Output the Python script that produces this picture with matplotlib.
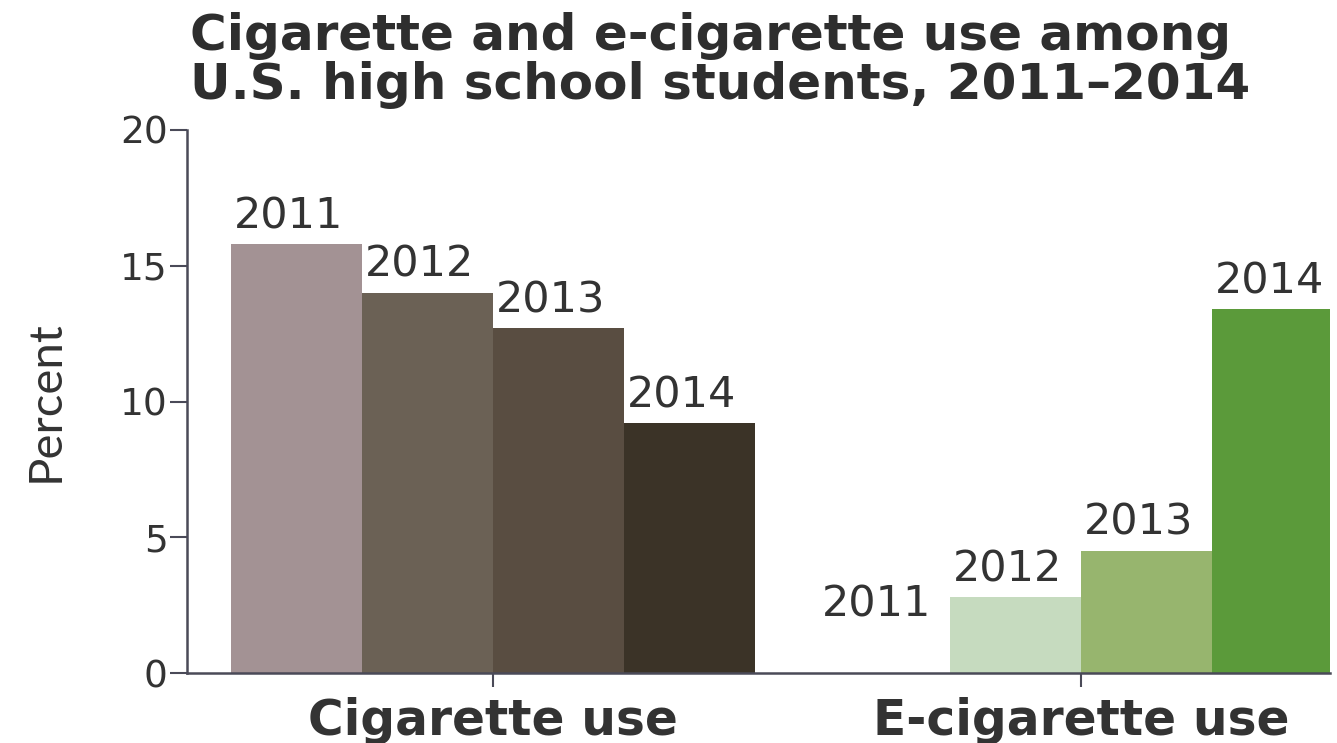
import numpy as np
import matplotlib
matplotlib.use("Agg")
import matplotlib.pyplot as plt

groups = ["Cigarette use", "E-cigarette use"]
years = ["2011", "2012", "2013", "2014"]
cig_use = [15.8, 14.0, 12.7, 9.2]
ecig_use = [1.5, 2.8, 4.5, 13.4]

cig_colors = ["#a39294", "#6b6155", "#594d41", "#3b3327"]
# the 2011 e-cigarette bar is not visible in the source
ecig_colors = ["#ffffff", "#c6dbbf", "#97b56e", "#5b9a3a"]

fig = plt.figure(figsize=(13.37, 7.43), dpi=100)
ax = fig.add_axes([187 / 1337, 1 - 673 / 743, (1330 - 187) / 1337, (673 - 130) / 743])

w = 0.2228
offsets = (np.arange(4) - 1.5) * w
num_font = "DejaVu Sans"
txt = "#333333"

for gi, vals, cols in [(0, cig_use, cig_colors), (1, ecig_use, ecig_colors)]:
    xs = gi + offsets
    ax.bar(xs, vals, width=w, color=cols, edgecolor="none")
    for x, v, yr in zip(xs, vals, years):
        ax.annotate(yr, (x - w / 2, v), xytext=(2, 5), textcoords="offset points",
                    ha="left", va="bottom", fontsize=31, family=num_font, color=txt)

ax.set_xlim(-0.52, 1.4235)
ax.set_ylim(0, 20)
ax.set_yticks([0, 5, 10, 15, 20])
ax.set_xticks([0, 1])
ax.set_xticklabels(groups, fontsize=35, family="DejaVu Sans", fontweight="bold", color=txt)
for lab in ax.get_yticklabels():
    lab.set_family(num_font)
    lab.set_fontsize(27)
    lab.set_color(txt)
ax.tick_params(axis="y", length=12, width=1.5, color="#4a4a58", pad=2)
ax.tick_params(axis="x", length=10, width=1.5, color="#4a4a58", pad=7)
for s in ["top", "right"]:
    ax.spines[s].set_visible(False)
for s in ["left", "bottom"]:
    ax.spines[s].set_color("#4a4a58")
    ax.spines[s].set_linewidth(1.8)
ax.set_ylabel("Percent", fontsize=34, family="Lato", color=txt, labelpad=38)

fig.text(190 / 1337, 1 - 12 / 743, "Cigarette and e-cigarette use among\nU.S. high school students, 2011\u20132014",
         ha="left", va="top", fontsize=36, family="DejaVu Sans", fontweight="bold",
         color="#2e2e2e", linespacing=1.02)

fig.savefig("out.png", dpi=100)
